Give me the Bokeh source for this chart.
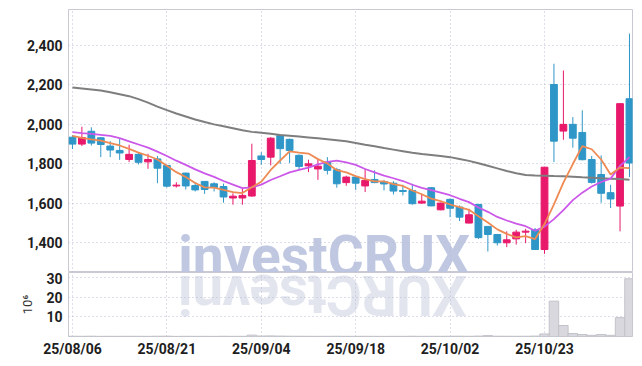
import math
from bokeh.plotting import figure
from bokeh.models import Range1d, FixedTicker, NumeralTickFormatter, ColumnDataSource
from bokeh.layouts import column
from bokeh.embed import file_html
from bokeh.resources import INLINE
from bokeh.core.properties import value

# ---------------- data ----------------
dates = ["25/08/06", "25/08/07", "25/08/08", "25/08/11", "25/08/12", "25/08/13", "25/08/14", "25/08/18",
         "25/08/19", "25/08/20", "25/08/21", "25/08/22", "25/08/25", "25/08/26", "25/08/27", "25/08/28",
         "25/08/29", "25/09/01", "25/09/02", "25/09/03", "25/09/04", "25/09/05", "25/09/08", "25/09/09",
         "25/09/10", "25/09/11", "25/09/12", "25/09/15", "25/09/16", "25/09/17", "25/09/18", "25/09/19",
         "25/09/22", "25/09/23", "25/09/24", "25/09/25", "25/09/26", "25/09/29", "25/09/30", "25/10/01",
         "25/10/02", "25/10/10", "25/10/13", "25/10/14", "25/10/15", "25/10/16", "25/10/17", "25/10/20",
         "25/10/21", "25/10/22", "25/10/23", "25/10/24", "25/10/27", "25/10/28", "25/10/29", "25/10/30",
         "25/10/31", "25/11/03", "25/11/04", "25/11/05"]

opens = [1935, 1900, 1965, 1932, 1890, 1868, 1822, 1848, 1810, 1825,
         1792, 1688, 1753, 1690, 1711, 1699, 1685, 1627, 1627, 1637,
         1840, 1834, 1944, 1924, 1843, 1790, 1774, 1809, 1770, 1705,
         1733, 1688, 1721, 1710, 1702, 1665, 1665, 1601, 1679, 1567,
         1620, 1581, 1500, 1594, 1483, 1442, 1400, 1420, 1454, 1466,
         1366, 2202, 1966, 2000, 1959, 1822, 1746, 1654, 1586, 2130]
highs = [1945, 1988, 1985, 1935, 1915, 1927, 1897, 1860, 1851, 1840,
         1795, 1707, 1755, 1707, 1713, 1707, 1700, 1651, 1680, 1902,
         1859, 1935, 1948, 1928, 1848, 1821, 1826, 1834, 1780, 1740,
         1736, 1775, 1767, 1718, 1712, 1694, 1699, 1648, 1682, 1604,
         1625, 1589, 1572, 1598, 1485, 1445, 1458, 1466, 1471, 1475,
         1785, 2307, 2273, 2037, 2071, 1840, 1843, 1694, 2105, 2460]
lows = [1875, 1890, 1893, 1834, 1834, 1820, 1809, 1797, 1775, 1702,
        1680, 1680, 1670, 1660, 1648, 1660, 1603, 1593, 1593, 1633,
        1795, 1792, 1800, 1804, 1767, 1758, 1719, 1746, 1679, 1689,
        1668, 1657, 1702, 1665, 1645, 1640, 1593, 1598, 1585, 1565,
        1530, 1510, 1498, 1420, 1356, 1386, 1378, 1391, 1398, 1366,
        1344, 1809, 1922, 1882, 1818, 1700, 1603, 1576, 1458, 1733]
closes = [1900, 1933, 1905, 1898, 1870, 1855, 1848, 1808, 1822, 1778,
          1687, 1692, 1688, 1668, 1670, 1680, 1632, 1636, 1640, 1817,
          1822, 1930, 1877, 1868, 1787, 1800, 1788, 1767, 1699, 1733,
          1702, 1716, 1705, 1698, 1662, 1660, 1598, 1611, 1587, 1601,
          1575, 1530, 1542, 1426, 1442, 1400, 1415, 1454, 1459, 1366,
          1783, 1915, 2000, 1930, 1821, 1706, 1651, 1622, 2105, 1804]

ma5 = [1942, 1932, 1924, 1918, 1905, 1893, 1876, 1857, 1841, 1822,
       1790, 1758, 1733, 1703, 1681, 1680, 1668, 1657, 1652, 1681,
       1709, 1769, 1817, 1863, 1857, 1852, 1824, 1802, 1768, 1757,
       1738, 1723, 1711, 1711, 1697, 1688, 1665, 1646, 1624, 1611,
       1594, 1581, 1567, 1535, 1503, 1468, 1445, 1427, 1434, 1419,
       1495, 1595, 1705, 1799, 1890, 1874, 1822, 1746, 1781, 1778]
ma10 = [1961, 1956, 1952, 1947, 1942, 1930, 1914, 1898, 1882, 1862,
        1840, 1816, 1795, 1772, 1752, 1734, 1713, 1695, 1677, 1681,
        1695, 1718, 1737, 1757, 1769, 1781, 1797, 1810, 1816, 1807,
        1795, 1774, 1757, 1740, 1727, 1713, 1694, 1678, 1667, 1654,
        1641, 1623, 1606, 1579, 1557, 1531, 1513, 1497, 1484, 1461,
        1482, 1520, 1566, 1616, 1654, 1685, 1708, 1725, 1790, 1834]
ma_long = [2187, 2182, 2177, 2172, 2163, 2153, 2143, 2128, 2110, 2090,
           2072, 2055, 2040, 2025, 2012, 2000, 1990, 1980, 1970, 1962,
           1957, 1952, 1946, 1942, 1938, 1934, 1930, 1925, 1920, 1914,
           1906, 1897, 1889, 1880, 1872, 1864, 1856, 1850, 1845, 1840,
           1834, 1825, 1815, 1803, 1790, 1777, 1764, 1752, 1743, 1741,
           1740, 1738, 1737, 1735, 1732, 1730, 1727, 1725, 1723, 1720]

volume_m = [0.12, 0.10, 0.15, 0.08, 0.10, 0.09, 0.11, 0.10, 0.08, 0.14,
            0.16, 0.07, 0.10, 0.08, 0.09, 0.07, 0.12, 0.08, 0.10, 0.70,
            0.25, 0.30, 0.20, 0.15, 0.12, 0.10, 0.09, 0.10, 0.12, 0.08,
            0.09, 0.10, 0.08, 0.07, 0.09, 0.08, 0.12, 0.08, 0.10, 0.09,
            0.12, 0.15, 0.10, 0.20, 0.45, 0.15, 0.12, 0.10, 0.12, 0.20,
            1.3, 18.0, 5.6, 1.5, 1.0, 0.6, 1.0, 0.6, 9.6, 29.4]

x_tick_idx = [0, 10, 20, 30, 40, 50]
price_ticks = [1400, 1600, 1800, 2000, 2200, 2400]
volume_ticks = [10, 20, 30]
watermark = "investCRUX"

# ---------------- styles ----------------
UP = "#e8196b"
DOWN = "#2f97c8"
GRID = "#b9bdd3"
FRAME = "#c9c9d3"
FONT = "Roboto"
PRICE_LO, PRICE_HI = 1249.5, 2582
VOL_HI = 32.6

n = len(closes)
xs = list(range(n))
colors = [UP if c >= o else DOWN for o, c in zip(opens, closes)]
src = ColumnDataSource(dict(
    x=xs, open=opens, high=highs, low=lows, close=closes,
    top=[max(o, c) for o, c in zip(opens, closes)],
    bottom=[min(o, c) for o, c in zip(opens, closes)],
    color=colors, ma5=ma5, ma10=ma10, ma_long=ma_long, vol=volume_m,
))

x_range = Range1d(-0.42, 59.32)


def style_axis(ax):
    ax.axis_line_color = None
    ax.major_tick_line_color = None
    ax.minor_tick_line_color = None
    ax.major_tick_out = 0
    ax.major_tick_in = 0
    ax.minor_tick_out = 0
    ax.major_label_text_font = FONT
    ax.major_label_text_font_style = "bold"
    ax.major_label_text_font_size = "14px"
    ax.major_label_text_color = "#1e1e1e"


def style_grid(p, yticks):
    p.xgrid.ticker = FixedTicker(ticks=x_tick_idx)
    p.ygrid.ticker = FixedTicker(ticks=yticks)
    for g in (p.xgrid, p.ygrid):
        g.grid_line_color = GRID
        g.grid_line_dash = "1 3"
        g.grid_line_width = 1


# ---------------- price panel ----------------
p1 = figure(width=642, height=272, x_range=x_range, y_range=Range1d(PRICE_LO, PRICE_HI),
            output_backend="svg", toolbar_location=None, x_axis_location=None,
            min_border_left=68, min_border_right=10, min_border_top=9, min_border_bottom=0)
p1.outline_line_color = FRAME
p1.background_fill_color = "white"
p1.border_fill_color = "white"
p1.yaxis.ticker = FixedTicker(ticks=price_ticks)
p1.yaxis.formatter = NumeralTickFormatter(format="0,0")
style_axis(p1.yaxis)
p1.yaxis.major_label_standoff = 6
style_grid(p1, price_ticks)

# watermark (decoration)
wm_left_x = 11.2
wm_size = 55
char_w = {"i": 0.254, "n": 0.556, "v": 0.497, "e": 0.531, "s": 0.516, "t": 0.331,
          "C": 0.653, "R": 0.631, "U": 0.646, "X": 0.628}
px_per_unit = 564 / (x_range.end - x_range.start)
wm_y = PRICE_LO + 82
wm_r = p1.text(x=[wm_left_x], y=[wm_y], text=[watermark], text_font=value(FONT),
               text_font_style="bold", text_font_size=f"{wm_size}px", text_color="#bcc4df",
               text_alpha=0.95, text_align="left", text_baseline="alphabetic")
wm_r.level = "underlay"

p1.segment(x0="x", y0="low", x1="x", y1="high", color="color", line_width=1, source=src)
p1.vbar(x="x", width=0.72, top="top", bottom="bottom", fill_color="color",
        line_color="color", line_width=1, source=src)
p1.line("x", "ma_long", source=src, line_color="#7e7e7e", line_width=2)
p1.line("x", "ma10", source=src, line_color="#cc58ea", line_width=1.8)
p1.line("x", "ma5", source=src, line_color="#ee8a52", line_width=1.8)

# ---------------- volume panel ----------------
p2 = figure(width=642, height=93, x_range=x_range, y_range=Range1d(0, VOL_HI),
            output_backend="svg", toolbar_location=None,
            min_border_left=68, min_border_right=10, min_border_top=0, min_border_bottom=29)
p2.outline_line_color = FRAME
p2.background_fill_color = "white"
p2.border_fill_color = "white"

p2.yaxis.ticker = FixedTicker(ticks=volume_ticks)
style_axis(p2.yaxis)
p2.yaxis.major_label_standoff = 6
p2.yaxis.axis_label = "10⁶"
p2.yaxis.axis_label_text_font = FONT
p2.yaxis.axis_label_text_font_style = "normal"
p2.yaxis.axis_label_text_font_size = "13px"
p2.yaxis.axis_label_text_color = "#333333"
p2.yaxis.axis_label_standoff = 8

p2.xaxis.ticker = FixedTicker(ticks=x_tick_idx)
p2.xaxis.major_label_overrides = {i: dates[i] for i in x_tick_idx}
style_axis(p2.xaxis)
p2.xaxis.major_label_standoff = 4
style_grid(p2, volume_ticks)

# reflected watermark: every glyph flipped below the divider
cx_list, ch_list = [], []
pos_px = 0.0
for ch in watermark:
    w = char_w[ch] * wm_size
    cx_list.append(wm_left_x + (pos_px + w / 2) / px_per_unit)
    ch_list.append(ch)
    pos_px += w
ref_y = VOL_HI - 11.5
ref_r = p2.text(x=cx_list, y=[ref_y] * len(ch_list), text=ch_list, angle=math.pi,
                text_font=value(FONT), text_font_style="bold", text_font_size=f"{wm_size}px",
                text_color="#dfe2ec", text_alpha=0.9, text_align="center",
                text_baseline="alphabetic")
ref_r.level = "underlay"

p2.vbar(x="x", width=1.0, top="vol", bottom=0, fill_color="#d8d8de",
        line_color="#c2c2ca", line_width=1, source=src)

layout = column(p1, p2)
open("out.html", "w").write(file_html(layout, INLINE))
